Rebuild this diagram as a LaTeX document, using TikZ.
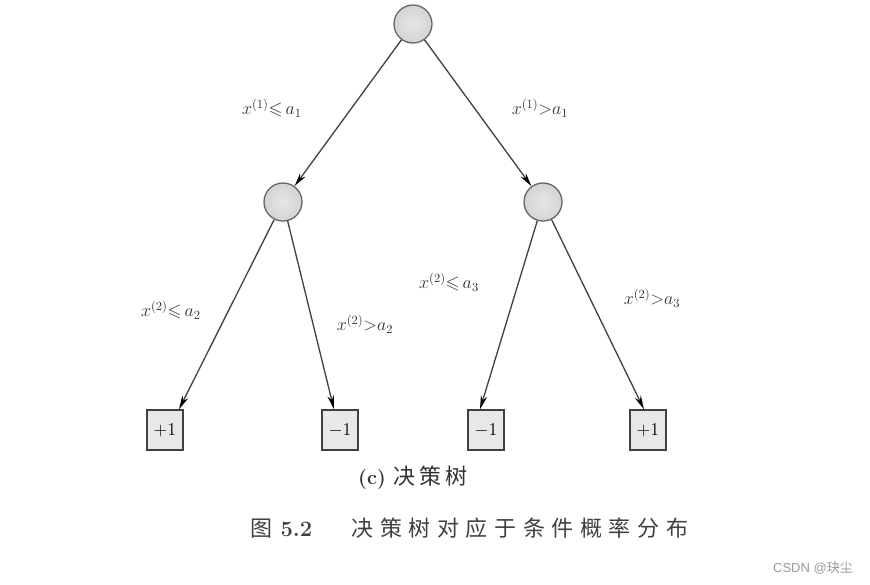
\documentclass[tikz,border=0pt]{standalone}
\usepackage{graphicx}
\usepackage{amssymb}
\usepackage{fontspec}
\newfontfamily\cjk{Noto Sans CJK SC}
\newfontfamily\wmk{Liberation Sans}
\usetikzlibrary{arrows.meta,calc}
\newcommand\cc[2]{\makebox[#1]{#2}}
\newcommand\cnd[1]{\scalebox{1.25}{\fontsize{14.4}{16}\selectfont$#1$}}
\begin{document}
\begin{tikzpicture}[x=1pt,y=-1pt,
  decision/.style={circle,draw=black!60,line width=1.3pt,inner sep=0pt,minimum size=38pt,
    inner color=black!10,outer color=black!17},
  leaf/.style={rectangle,draw=black!75,line width=1.3pt,fill=black!9,minimum width=36pt,minimum height=40pt,
    inner sep=0pt},
  edge/.style={draw=black!75,line width=1.3pt,-{Stealth[length=14pt,width=6.5pt,black]}},
  cond/.style={text=black!80},
]
\useasboundingbox[fill=white] (0,0) rectangle (870,584);
\node[decision] (r) at (413,24) {};
\node[decision] (l) at (283,202) {};
\node[decision] (rr) at (543,202) {};
\node[leaf] (b1) at (165,430) {\cnd{+1}};
\node[leaf] (b2) at (340,430) {\cnd{-1}};
\node[leaf] (b3) at (486,430) {\cnd{-1}};
\node[leaf] (b4) at (648,430) {\cnd{+1}};
\coordinate (t1) at ($(b1.north)+(14,0)$);
\coordinate (t2) at ($(b2.north)+(-6,0)$);
\coordinate (t3) at ($(b3.north)+(-6,0)$);
\coordinate (t4) at ($(b4.north)+(-4,0)$);
\draw[edge] (r) -- (l);
\draw[edge] (r) -- (rr);
\draw[edge] (l) -- (t1);
\draw[edge] (l) -- (t2);
\draw[edge] (rr) -- (t3);
\draw[edge] (rr) -- (t4);
\node[cond] (c1) at (272,108) {\cnd{x^{(1)}{\leqslant}\,a_1}};
\node[cond] (c2) at (540,108) {\cnd{x^{(1)}{>}a_1}};
\node[cond] (c3) at (171,310) {\cnd{x^{(2)}{\leqslant}\,a_2}};
\node[cond] (c4) at (365,324) {\cnd{x^{(2)}{>}a_2}};
\node[cond] (c5) at (449,282) {\cnd{x^{(2)}{\leqslant}\,a_3}};
\node[cond] (c6) at (652,298) {\cnd{x^{(2)}{>}a_3}};
\node[font=\fontsize{20}{22}\selectfont,text=black!80] (sub) at (414,478)
  {\textbf{(c)}\hspace{6pt}{\cjk\fontsize{22}{24}\selectfont\cc{26pt}{决}\cc{26pt}{策}\cc{26pt}{树}}};
\node[font=\fontsize{22}{24}\selectfont,text=black!75] (cap) at (471,528)
  {{\cjk 图}\hspace{8pt}\textbf{5.2}\hspace{36pt}{\cjk\cc{28.6pt}{决}\cc{28.6pt}{策}\cc{28.6pt}{树}\cc{28.6pt}{对}\cc{28.6pt}{应}\cc{28.6pt}{于}\cc{28.6pt}{条}\cc{28.6pt}{件}\cc{28.6pt}{概}\cc{28.6pt}{率}\cc{28.6pt}{分}\cc{28.6pt}{布}}};
\node[font=\fontsize{13}{15}\selectfont,text=black!40] (wm) at (813,568) {{\wmk CSDN @}{\cjk 玦尘}};
\end{tikzpicture}
\end{document}
